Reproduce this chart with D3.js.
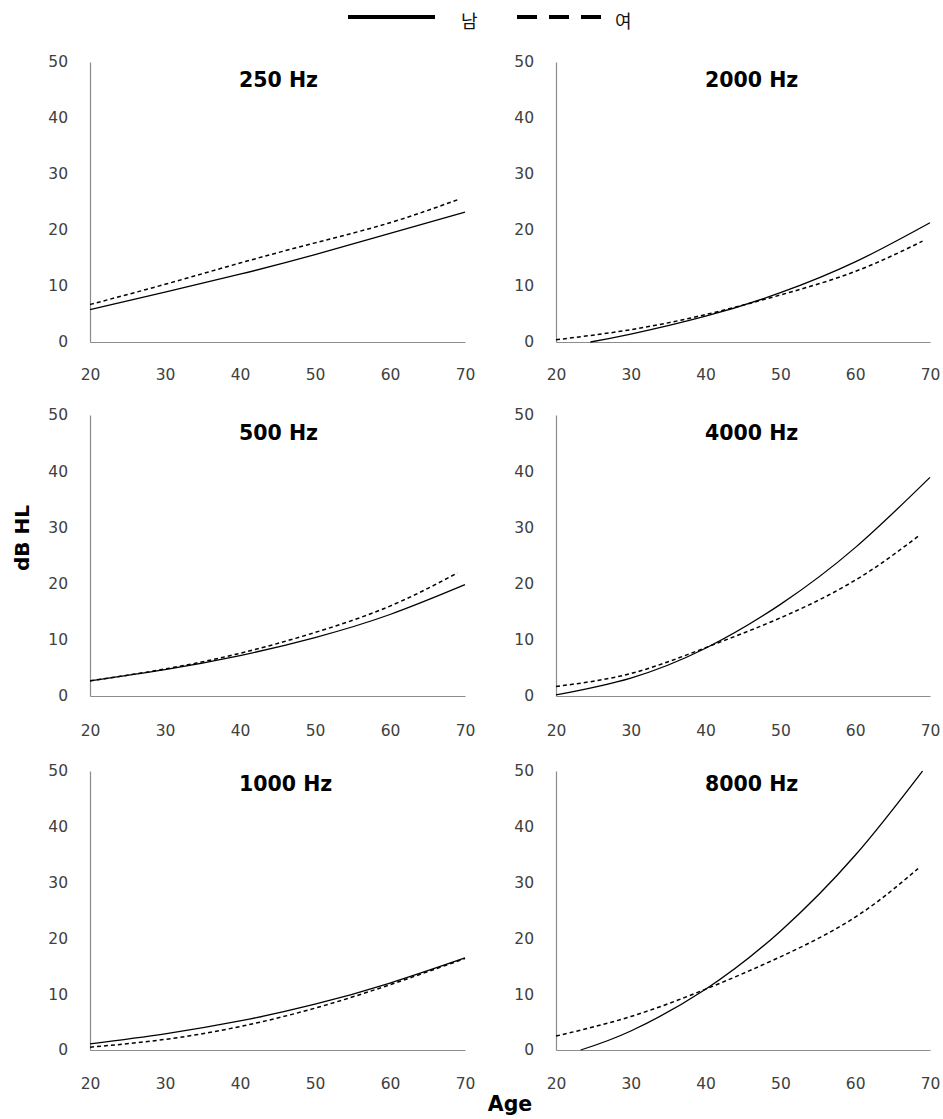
<!DOCTYPE html>
<html><head><meta charset="utf-8">
<script src="https://cdn.jsdelivr.net/npm/d3@7"></script>
<style>body{margin:0;background:#fff} svg{display:block}</style>
</head><body>
<script>
// ---- data ----
const titles = ["250 Hz", "2000 Hz", "500 Hz", "4000 Hz", "1000 Hz", "8000 Hz"];
const xTicks = [20, 30, 40, 50, 60, 70];
const yTicks = [0, 10, 20, 30, 40, 50];
const legendLabels = ["남", "여"];
const xLabel = "Age";
const yLabel = "dB HL";

const male250   = [[20,5.8],[30,8.9],[40,12.1],[50,15.6],[60,19.4],[70,23.2]];
const female250 = [[20,6.7],[30,10.3],[40,14.1],[50,17.7],[60,21.3],[69,25.4]];
const male2000   = [[24.6,0],[30,1.4],[40,4.6],[50,8.8],[60,14.3],[70,21.3]];
const female2000 = [[20,0.4],[30,2.2],[40,4.9],[50,8.4],[60,12.6],[69,18.0]];
const male500   = [[20,2.7],[30,4.7],[40,7.2],[50,10.4],[60,14.5],[70,19.8]];
const female500 = [[20,2.7],[30,4.8],[40,7.6],[50,11.3],[60,16.0],[69,21.9]];
const male4000   = [[20,0.2],[30,3.2],[40,8.5],[50,16.3],[60,26.4],[70,38.9]];
const female4000 = [[20,1.7],[30,4.0],[40,8.6],[50,13.9],[60,20.6],[68.5,28.5]];
const male1000   = [[20,1.1],[30,2.9],[40,5.2],[50,8.2],[60,12.0],[70,16.5]];
const female1000 = [[20,0.5],[30,1.9],[40,4.2],[50,7.5],[60,11.7],[70,16.4]];
const male8000   = [[23.3,0],[30,3.4],[40,10.9],[50,21.3],[60,34.9],[69,50]];
const female8000 = [[20,2.5],[30,6.0],[40,10.9],[50,16.7],[60,23.8],[68.4,32.5]];

const maleSeries   = [male250, male2000, male500, male4000, male1000, male8000];
const femaleSeries = [female250, female2000, female500, female4000, female1000, female8000];

// ---- layout ----
const W = 943, H = 1119;
const colX = [[90, 465], [556, 930]];
const rowY = [[342, 62], [696, 415], [1050, 771]];
const titleBase = [87, 440, 791];
const xPad = [27, 29, 28];

const svg = d3.select("body").append("svg").attr("width", W).attr("height", H);
svg.append("rect").attr("width", W).attr("height", H).attr("fill", "#fff");

const font = "'DejaVu Sans', Verdana, sans-serif";
const axisColor = "#8c8c8c";
const tickColor = "#404040";

titles.forEach((t, i) => {
  const c = i % 2, r = Math.floor(i / 2);
  const x = d3.scaleLinear().domain([20, 70]).range(colX[c]);
  const y = d3.scaleLinear().domain([0, 50]).range(rowY[r]);
  const g = svg.append("g");

  const gy = g.append("g").attr("transform", `translate(${colX[c][0]},0)`)
    .call(d3.axisLeft(y).tickValues(yTicks).tickSize(0).tickSizeOuter(0).tickPadding(22));
  const gx = g.append("g").attr("transform", `translate(0,${rowY[r][0]})`)
    .call(d3.axisBottom(x).tickValues(xTicks).tickSize(0).tickSizeOuter(0).tickPadding(xPad[r]));
  [gy, gx].forEach(a => {
    a.select(".domain").attr("stroke", axisColor).attr("stroke-width", 1.2);
    a.selectAll("text").attr("font-family", font).attr("font-size", "15.5px").attr("fill", tickColor);
  });

  g.append("text").attr("x", colX[c][0] + 149).attr("y", titleBase[r])
    .attr("font-family", font).attr("font-weight", "bold").attr("font-size", "20.5px")
    .attr("fill", "#000").text(t);

  const line = d3.line().x(d => x(d[0])).y(d => y(d[1])).curve(d3.curveNatural);
  g.append("path").datum(femaleSeries[i]).attr("d", line).attr("fill", "none")
    .attr("stroke", "#000").attr("stroke-width", 1.5).attr("stroke-dasharray", "4,3");
  g.append("path").datum(maleSeries[i]).attr("d", line).attr("fill", "none")
    .attr("stroke", "#000").attr("stroke-width", 1.3);
});

// legend
svg.append("line").attr("x1", 348).attr("x2", 435).attr("y1", 17).attr("y2", 17)
  .attr("stroke", "#000").attr("stroke-width", 4);
svg.append("text").attr("x", 461).attr("y", 28).attr("font-family", "'Noto Sans CJK KR', sans-serif")
  .attr("font-size", "18px").attr("fill", "#111").text(legendLabels[0]);
svg.append("line").attr("x1", 517).attr("x2", 601).attr("y1", 17).attr("y2", 17)
  .attr("stroke", "#000").attr("stroke-width", 4).attr("stroke-dasharray", "20,12");
svg.append("text").attr("x", 615).attr("y", 28).attr("font-family", "'Noto Sans CJK KR', sans-serif")
  .attr("font-size", "18px").attr("fill", "#111").text(legendLabels[1]);

// axis titles
svg.append("text").attr("transform", "translate(29,538) rotate(-90)").attr("text-anchor", "middle")
  .attr("font-family", font).attr("font-weight", "bold").attr("font-size", "20px").attr("fill", "#000")
  .text(yLabel);
svg.append("text").attr("x", 510).attr("y", 1111).attr("text-anchor", "middle")
  .attr("font-family", font).attr("font-weight", "bold").attr("font-size", "20.5px").attr("fill", "#000")
  .text(xLabel);
</script>
</body></html>
